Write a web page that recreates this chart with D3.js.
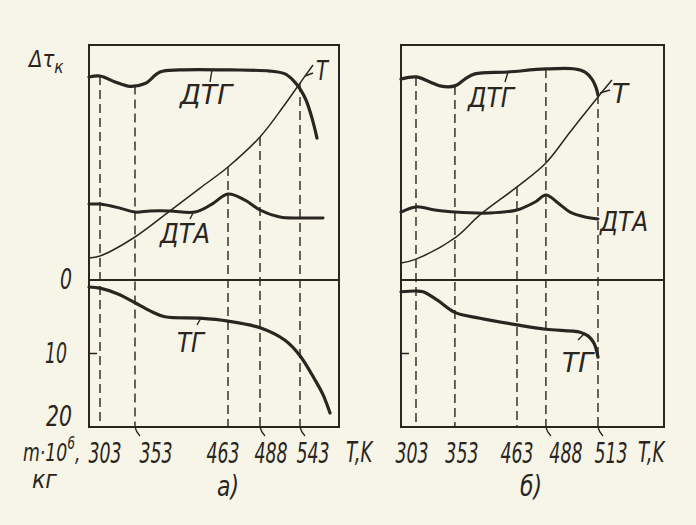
<!DOCTYPE html>
<html><head><meta charset="utf-8">
<script src="https://cdn.jsdelivr.net/npm/d3@7"></script>
<style>
html,body{margin:0;padding:0;background:#f6f5e8;}
svg{display:block;}
text{font-family:'Liberation Sans Narrow','DejaVu Sans Condensed','Liberation Sans',sans-serif;font-style:italic;fill:#2a2520;}
</style></head>
<body>
<svg id="c" width="696" height="525"></svg>
<script>
// ---------- DATA (x in relative time units 0..100 across each panel) ----------
const tickTempsA = ["303","353","463","488","543"];
const tickTimeA  = [4.4, 18.4, 55.6, 68.4, 84.4];
const tickTempsB = ["303","353","463","488","513"];
const tickTimeB  = [5.7, 20.5, 44.1, 55.1, 74.9];
const tgTicks = [0, 10, 20];

// upper-area curves: relative signal 0..100 (arbitrary units)
const dtgA = [[0,86.4],[4.4,86.8],[10.4,84.3],[16.4,82.4],[22.4,83.6],[28.4,88.5],[36.4,89.4],[56.4,89.4],[72.4,88.9],[78.4,87.7],[81.6,85.1],[84.4,81.3],[86.8,76.6],[89.2,68.9],[91.2,60.4]];
const tA   = [[0,9.4],[4.4,10.2],[18.4,18.3],[32.4,29.4],[44.4,39.1],[55.6,48.1],[68.4,60.9],[77.6,73.6],[84.4,83.8],[89.6,91.5]];
const dtaA = [[0,32.3],[4.4,32.3],[12.4,30.6],[18.4,28.9],[24.4,29.4],[32.4,29.4],[42.4,28.9],[49.2,32.3],[55.6,36.6],[62.4,34.0],[68.4,29.8],[76.4,26.8],[84.4,26.4],[93.6,26.4]];
const tgA  = [[0,0.95],[4.4,1.1],[11.6,1.9],[18.4,3.1],[24.4,4.2],[30.4,5.0],[44.4,5.2],[55.6,5.6],[68.4,6.5],[78.4,8.2],[84.4,10.3],[90.4,13.6],[93.6,15.6],[96.4,18.1]];

const dtgB = [[0,85.5],[5.7,86.4],[11.0,84.3],[14.8,82.6],[20.5,82.6],[24.3,85.5],[28.1,87.7],[40.3,88.5],[55.1,89.8],[66.2,89.8],[70.0,88.5],[72.6,85.5],[74.1,82.1],[74.9,78.7]];
const tB   = [[0,7.2],[5.7,8.9],[20.5,17.9],[30.0,27.7],[44.1,39.6],[55.1,49.8],[64.3,63.0],[74.9,77.9],[80.2,85.1]];
const dtaB = [[0,28.9],[5.7,31.1],[12.9,29.8],[20.5,28.9],[33.8,28.5],[44.1,29.8],[51.0,33.2],[55.1,36.2],[59.7,32.8],[64.3,28.9],[70.0,26.8],[74.9,26.0]];
const tgB  = [[0,1.6],[5.7,1.5],[8.4,1.6],[13.7,2.7],[20.5,4.4],[30.0,5.2],[44.1,6.1],[55.1,6.7],[68.1,7.1],[71.1,7.6],[73.4,8.6],[74.9,10.5]];

// ---------- LAYOUT ----------
const ink = "#2a2520";
const svg = d3.select("#c");
const yTop = d3.scaleLinear().domain([0,100]).range([280,45]);
const yTG  = d3.scaleLinear().domain([0,20]).range([280,427]);

const panels = [
  {x0:89, x1:339, ticks:tickTempsA, times:tickTimeA, dtg:dtgA, t:tA, dta:dtaA, tg:tgA,
   anchors:["dtg","dtg","t","t","t"], labelDx:[5,21,-5,11,13], leaders:[0,1,0,1,1],
   tk:346, cap:"а)", capX:228},
  {x0:401, x1:664, ticks:tickTempsB, times:tickTimeB, dtg:dtgB, t:tB, dta:dtaB, tg:tgB,
   anchors:["dtg","dtg","t","dtg","dtg"], labelDx:[-4,7,0,20,13], leaders:[0,0,0,1,1],
   tk:638, cap:"б)", capX:531}
];

function valAt(data, t){
  for(let i=1;i<data.length;i++){
    if(t<=data[i][0]){
      const a=data[i-1], b=data[i];
      return a[1]+(b[1]-a[1])*(t-a[0])/(b[0]-a[0]);
    }
  }
  return data[data.length-1][1];
}

function txt(x,y,s,size,len,anchor){
  const t = svg.append("text").attr("x",x).attr("y",y).attr("font-size",size)
    .attr("text-anchor",anchor||"start").text(s);
  if(len) t.attr("textLength",len).attr("lengthAdjust","spacingAndGlyphs");
  return t;
}
// condensed text via horizontal scale transform
function ctxt(x,y,s,size,sx,anchor){
  return svg.append("text").attr("transform",`translate(${x},${y}) scale(${sx},1)`)
    .attr("font-size",size).attr("text-anchor",anchor||"start").text(s);
}

panels.forEach(p=>{
  const x = d3.scaleLinear().domain([0,100]).range([p.x0,p.x1]);
  const g = svg.append("g");
  const line = (yS)=>d3.line().x(d=>x(d[0])).y(d=>yS(d[1])).curve(d3.curveCatmullRom.alpha(0.5));

  // dashed verticals
  p.times.forEach((tm,i)=>{
    const src = p.anchors[i]==="t" ? p.t : p.dtg;
    g.append("line").attr("x1",x(tm)).attr("x2",x(tm))
      .attr("y1",yTop(valAt(src,tm))).attr("y2",yTG(20))
      .attr("stroke",ink).attr("stroke-width",1.4).attr("stroke-dasharray","9,5");
    if(p.leaders[i]){
      g.append("path").attr("d",`M${x(tm)},${yTG(20)} q1,5 5,9`)
        .attr("fill","none").attr("stroke",ink).attr("stroke-width",1.3);
    }
    ctxt(x(tm)+p.labelDx[i],463,p.ticks[i],28,0.69,"middle");
  });

  // frame
  g.append("rect").attr("x",p.x0).attr("y",yTop(100)).attr("width",p.x1-p.x0)
    .attr("height",yTG(20)-yTop(100)).attr("fill","none").attr("stroke",ink).attr("stroke-width",2);
  g.append("line").attr("x1",p.x0).attr("x2",p.x1).attr("y1",yTG(0)).attr("y2",yTG(0))
    .attr("stroke",ink).attr("stroke-width",2.2);
  g.append("line").attr("x1",p.x0).attr("x2",p.x0+8).attr("y1",yTG(10)).attr("y2",yTG(10))
    .attr("stroke",ink).attr("stroke-width",1.5);

  // curves
  g.append("path").attr("d",line(yTop)(p.t)).attr("fill","none").attr("stroke",ink).attr("stroke-width",1.5);
  g.append("path").attr("d",line(yTop)(p.dtg)).attr("fill","none").attr("stroke",ink).attr("stroke-width",3.2).attr("stroke-linecap","round");
  g.append("path").attr("d",line(yTop)(p.dta)).attr("fill","none").attr("stroke",ink).attr("stroke-width",3).attr("stroke-linecap","round");
  g.append("path").attr("d",line(yTG)(p.tg)).attr("fill","none").attr("stroke",ink).attr("stroke-width",3.2).attr("stroke-linecap","round");

  ctxt(p.tk,462,"T,K",28,0.72);
  txt(p.capX,496,p.cap,28,22,"middle");
});

// TG axis labels (left)
const tgLabelDy = [9, 9, -1];
const tgLabelW = [12, 22, 26];
tgTicks.forEach((v,i)=>{
  txt(i===1?67:72, yTG(v)+tgLabelDy[i], String(v), 29, tgLabelW[i], "end");
});

// axis titles (single text elements with tspans, horizontally condensed)
const a1 = svg.append("text").attr("transform","translate(29,67) scale(0.95,1)").attr("font-size",23);
a1.append("tspan").text("Δτ");
a1.append("tspan").attr("font-size",18).attr("dy",6).text("к");
const a2 = svg.append("text").attr("transform","translate(23,461) scale(0.8,1)").attr("font-size",24);
a2.append("tspan").text("m·10");
a2.append("tspan").attr("font-size",17).attr("dy",-12).text("6");
a2.append("tspan").attr("dy",12).text(",");
txt(32,488,"кг",24,25);

// curve labels with little leaders
function lead(x1,y1,x2,y2){ svg.append("line").attr("x1",x1).attr("y1",y1).attr("x2",x2).attr("y2",y2).attr("stroke",ink).attr("stroke-width",1.4); }
txt(180,104,"ДТГ",27,52); lead(212,70,210,82);
txt(316,80,"T",27,12); lead(305,76,313,73);
txt(160,243,"ДТА",27,50); lead(193,213,190,219);
txt(177,352,"ТГ",27,27); lead(201,318,197,325);
txt(468,107,"ДТГ",27,46); lead(508,72,505,82);
txt(612,103,"T",27,16); lead(600,93,610,90);
txt(600,231,"ДТА",27,48);
txt(562,372,"ТГ",27,31); lead(585,333,578,340);
</script>
</body></html>
